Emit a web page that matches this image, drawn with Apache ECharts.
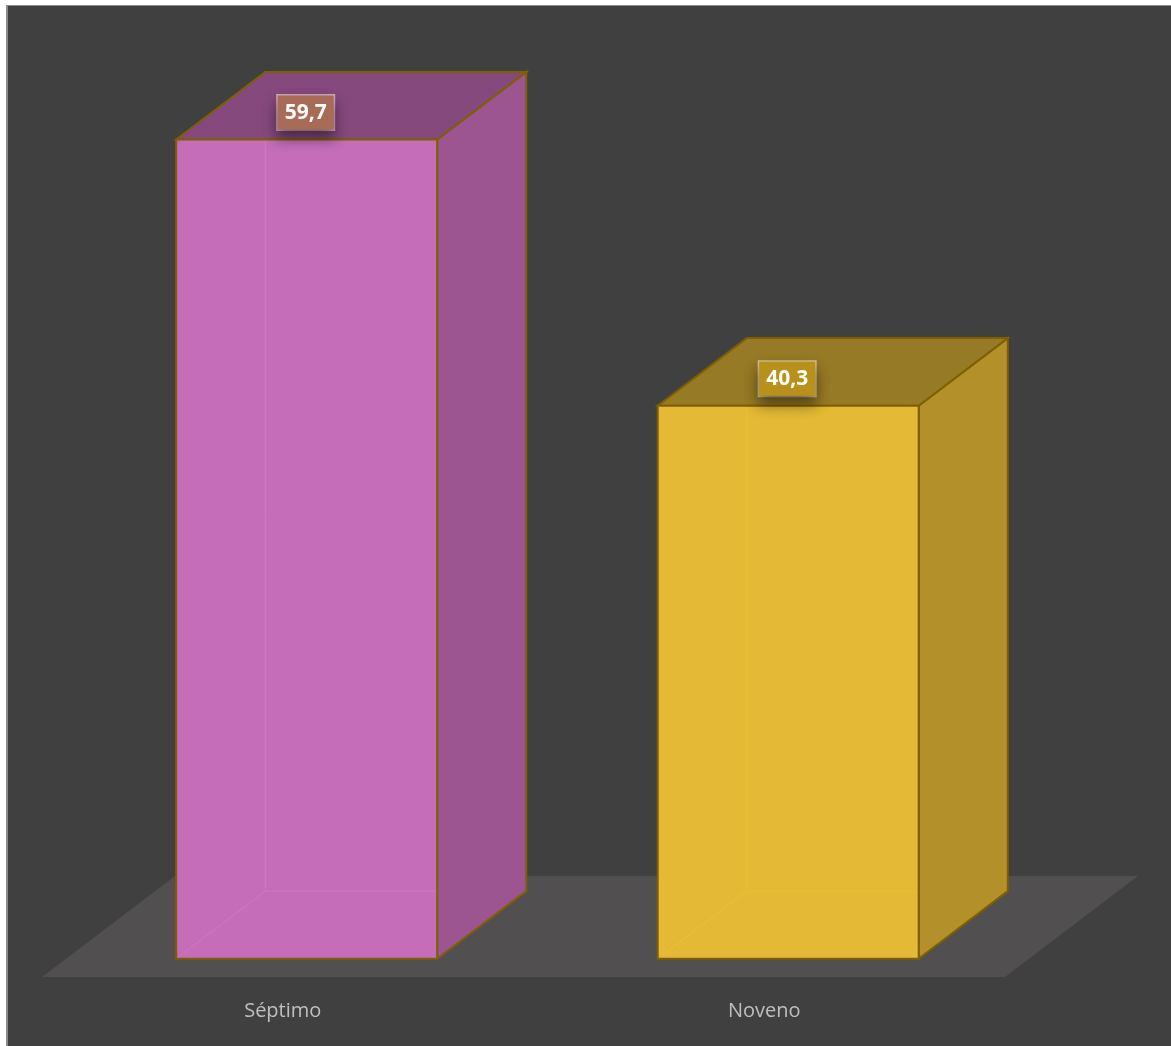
<!DOCTYPE html>
<html>
<head>
<meta charset="utf-8">
<title>Séptimo / Noveno</title>
<script src="https://cdn.jsdelivr.net/npm/echarts@6/dist/echarts.min.js"></script>
<style>
  html, body { margin: 0; padding: 0; background: #ffffff; overflow: hidden; }
  #chart { position: absolute; left: 0; top: 0; width: 1171px; height: 1046px; }
  .edge { position: absolute; pointer-events: none; }
</style>
</head>
<body>
<div id="chart"></div>
<!-- page margin and frame lines over the chart's top-left corner -->
<div class="edge" style="left:0;top:0;width:1171px;height:5px;background:#fff"></div>
<div class="edge" style="left:0;top:0;width:6px;height:1046px;background:#fff"></div>
<div class="edge" style="left:6px;top:5px;width:1165px;height:1px;background:#8a8a8a"></div>
<div class="edge" style="left:6px;top:5px;width:2px;height:1041px;background:#8a8a8a"></div>
<script>
// Grades and their shares (%)
const categories = ['Séptimo', 'Noveno'];
const values = [59.7, 40.3];

// Face colours per bar: front, side, top, hidden-edge tint, label box
const frontColors = ['#c66dba', '#e4b935'];
const sideColors = ['#9d5592', '#b3902a'];
const topColors = ['#86497e', '#977a25'];
const innerLineColors = ['rgba(235,125,210,0.45)', 'rgba(250,200,40,0.5)'];
const labelBoxColors = ['#a86b55', '#b8911b'];

const EDGE = '#7f5f00';
// Floor depth vector (screen px) and bar placement within that depth
const DEPTH = [133, -101];
const FRONT_AT = 0.18;
const BAR_DEPTH = 0.67;
const BAR_WIDTH = 0.542;

const chart = echarts.init(document.getElementById('chart'), null, { renderer: 'canvas' });

function renderFloor(params, api) {
  const cs = params.coordSys;
  const x0 = cs.x, x1 = cs.x + cs.width, y0 = cs.y + cs.height;
  return {
    type: 'polygon',
    shape: { points: [[x0, y0], [x1, y0], [x1 + DEPTH[0], y0 + DEPTH[1]], [x0 + DEPTH[0], y0 + DEPTH[1]]] },
    style: { fill: '#514f50' },
    silent: true
  };
}

function renderBar(params, api) {
  const i = api.value(0);
  const v = api.value(1);
  const top = api.coord([i, v]);
  const base = api.coord([i, 0]);
  const band = api.size([1, 0])[0];
  const w = band * BAR_WIDTH;
  const ox = DEPTH[0] * FRONT_AT, oy = DEPTH[1] * FRONT_AT;
  const dx = DEPTH[0] * BAR_DEPTH, dy = DEPTH[1] * BAR_DEPTH;
  const x1 = top[0] - w / 2 + ox, x2 = top[0] + w / 2 + ox;
  const yt = top[1] + oy, yb = base[1] + oy;
  const k = params.dataIndex;
  const line = (a, b) => ({
    type: 'line', shape: { x1: a[0], y1: a[1], x2: b[0], y2: b[1] },
    style: { stroke: innerLineColors[k], lineWidth: 1 }, silent: true
  });
  const txt = v.toFixed(1).replace('.', ',');
  return {
    type: 'group',
    children: [
      {
        type: 'polygon',
        shape: { points: [[x2, yt], [x2 + dx, yt + dy], [x2 + dx, yb + dy], [x2, yb]] },
        style: { fill: sideColors[k], stroke: EDGE, lineWidth: 2 }
      },
      {
        type: 'polygon',
        shape: { points: [[x1, yt], [x2, yt], [x2 + dx, yt + dy], [x1 + dx, yt + dy]] },
        style: { fill: topColors[k], stroke: EDGE, lineWidth: 2 }
      },
      {
        type: 'rect',
        shape: { x: x1, y: yt, width: x2 - x1, height: yb - yt },
        style: { fill: frontColors[k] }
      },
      // back edges showing through the translucent front face
      line([x1 + dx, yt], [x1 + dx, yb + dy]),
      line([x1 + dx, yb + dy], [x2, yb + dy]),
      line([x1, yb], [x1 + dx, yb + dy]),
      {
        type: 'rect',
        shape: { x: x1, y: yt, width: x2 - x1, height: yb - yt },
        style: { fill: 'none', stroke: EDGE, lineWidth: 2 }
      },
      {
        type: 'text',
        x: top[0] + ox - 1,
        y: yt - 27,
        style: {
          text: txt,
          align: 'center',
          verticalAlign: 'middle',
          fill: '#ffffff',
          font: 'bold 21px "Open Sans", sans-serif',
          backgroundColor: labelBoxColors[k],
          borderColor: 'rgba(255,235,225,0.6)',
          borderWidth: 1.5,
          padding: [7, 7, 6, 7],
          shadowColor: 'rgba(0,0,0,0.45)',
          shadowBlur: 14,
          shadowOffsetY: 8
        },
        z2: 10
      }
    ]
  };
}

chart.setOption({
  backgroundColor: '#404040',
  animation: false,
  grid: { left: 42, right: 166, top: 85, bottom: 69 },
  xAxis: {
    type: 'category',
    data: categories,
    axisLine: { show: false },
    axisTick: { show: false },
    splitLine: { show: false },
    axisLabel: {
      color: '#bfbfbf',
      fontSize: 20,
      fontFamily: '"Open Sans", sans-serif',
      margin: 24
    }
  },
  yAxis: {
    type: 'value',
    min: 0,
    max: 65,
    show: false,
    splitLine: { show: false }
  },
  series: [
    {
      type: 'custom',
      renderItem: renderFloor,
      data: [[0, 0]],
      silent: true,
      z: 1
    },
    {
      type: 'custom',
      renderItem: renderBar,
      data: values.map((v, i) => [i, v]),
      z: 2
    }
  ]
});
</script>
</body>
</html>
